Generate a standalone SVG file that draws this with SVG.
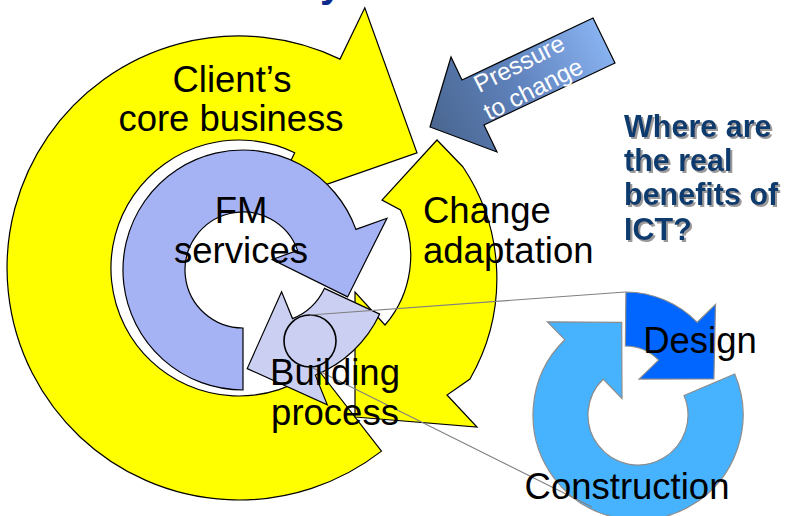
<svg xmlns="http://www.w3.org/2000/svg" width="790" height="516" viewBox="0 0 790 516">
<defs>
<linearGradient id="pg" gradientUnits="userSpaceOnUse" x1="430" y1="127" x2="604" y2="40">
<stop offset="0" stop-color="#4A6690"/>
<stop offset="0.5" stop-color="#5F82BC"/>
<stop offset="1" stop-color="#88B2F0"/>
</linearGradient>
<filter id="shadow" x="-10%" y="-10%" width="130%" height="130%">
<feDropShadow dx="2" dy="2" stdDeviation="0.6" flood-color="#9A9A9A" flood-opacity="1"/>
</filter>
</defs>
<style>
.lbl{font-family:"Liberation Sans",Arial,sans-serif;font-size:36.5px;fill:#000}
.q{font-family:"Liberation Sans",Arial,sans-serif;font-size:30.5px;font-weight:bold;fill:#0B3A6E}
.blk{stroke:#000;stroke-width:1.2;stroke-linejoin:miter}
.gry{stroke:#8C8C8C;stroke-width:1.2}
.conn{stroke:#808080;stroke-width:1.1;fill:none}
</style>
<rect width="790" height="516" fill="#fff"/>
<text x="320" y="-3.5" style="font-family:'Liberation Sans',Arial,sans-serif;font-size:40px;font-weight:bold;fill:#0A2B8C">y</text>

<g id="client-core-business">
<path class="blk" fill="#FFFF00" d="M381.5,451.1 A232,232 0 1 1 340,59.1 L364.8,7.8 L417,152.8 L269.9,204.1 L294.7,152.8 A128,128 0 1 0 317.6,369 Z"/>
<text class="lbl" text-anchor="middle"><tspan x="232" y="92">Client’s</tspan><tspan x="231" y="131">core business</tspan></text>
</g>

<g id="change-adaptation">
<path class="blk" fill="#FFFF00" d="M355,417 L477,427 L447,395 L470,379 A201,201 0 0 0 463,167 L437,140 L382,200 L400.5,210 A106.5,106.5 0 0 1 385,325 L355,292 Z"/>
</g>

<g id="fm-services">
<path class="blk" fill="#A5B2F4" d="M243,390 A120,120 0 1 1 355.9,229.4 L387,218.2 L347.6,296.9 L272.2,259.5 L297.6,250.4 A58,58 0 1 0 243,328 Z"/>
</g>

<g id="building-process">
<path class="blk" fill="#CBD0F2" d="M379.7,314.1 A121,121 0 0 1 315.3,375.2 L327.3,404.9 L247.2,368.6 L281.6,291.7 L292.5,318.6 A60,60 0 0 0 324.4,288.4 Z"/>
<circle cx="310" cy="341" r="26" fill="#CBD0F2" stroke="#000" stroke-width="1.6"/>
</g>

<g id="construction">
<path class="gry" fill="#47B3FF" d="M734.7,374 A105,105 0 1 1 564.8,339.7 L547.4,321.8 L621.7,322.4 L622,398.5 L603.1,379.2 A50,50 0 1 0 684,395.5 Z"/>
</g>

<g id="design">
<path class="gry" fill="#0066FF" d="M625.9,292 A101,101 0 0 1 697.2,322.3 L715.5,304.4 L713.9,378.9 L639.1,379.1 L658.6,360.1 A47,47 0 0 0 625.4,346 Z"/>
</g>

<g id="pressure-to-change">
<path class="blk" fill="url(#pg)" d="M430,127 L451,57 L462,80 L593,18 L615,63 L484,125 L497,152 Z"/>
<g transform="translate(523,71) rotate(-27)" style="font-family:'Liberation Sans',Arial,sans-serif;font-size:24.5px;fill:#fff" text-anchor="middle">
<text x="0" y="0">Pressure</text>
<text x="1" y="29">to change</text>
</g>
</g>

<g id="connectors">
<line class="conn" x1="310" y1="315" x2="625.5" y2="292"/>
<line class="conn" x1="311" y1="367" x2="592" y2="507"/>
</g>

<g id="labels">
<text class="lbl" text-anchor="middle"><tspan x="241" y="223">FM</tspan><tspan x="241" y="263">services</tspan></text>
<text class="lbl"><tspan x="423" y="223">Change</tspan><tspan x="423" y="263">adaptation</tspan></text>
<text class="lbl" text-anchor="middle"><tspan x="335" y="385">Building</tspan><tspan x="335" y="425">process</tspan></text>
<text class="lbl" text-anchor="middle" x="700" y="353">Design</text>
<text class="lbl" text-anchor="middle" x="627" y="499">Construction</text>
</g>

<g id="question">
<text class="q" filter="url(#shadow)"><tspan x="624" y="137">Where are</tspan><tspan x="624" y="171">the real</tspan><tspan x="624" y="205">benefits of</tspan><tspan x="624" y="240">ICT?</tspan></text>
</g>
</svg>
